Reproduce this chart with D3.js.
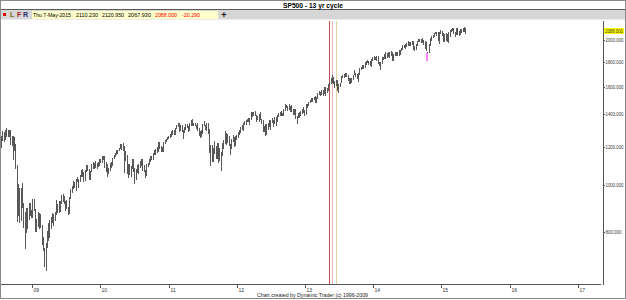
<!DOCTYPE html>
<html>
<head>
<meta charset="utf-8">
<script src="https://cdnjs.cloudflare.com/ajax/libs/d3/7.8.5/d3.min.js"></script>
<style>
    body { margin: 0; background: #fff; }
    svg { display: block; font-family: 'Liberation Sans', Arial, sans-serif; }
</style>
</head>
<body>
<svg class="main" width="626" height="300"></svg>
<script>
'use strict';

// weekly bars, first week starts Mon 14-Jul-2008
var firstWeek = '2008-07-14';

var highs = [
    1262,1291,1285,1300,1314,1300,1300,1303,1266,1266,1256,1214,1100,1006,985,984,1007,919,879,896,897,918,918,887,934,
    936,891,850,877,875,870,827,780,739,758,804,832,845,857,875,871,878,930,911,924,926,951,956,947,928,930,898,943,980,996,
    1018,1012,1027,1039,1028,1048,1074,1080,1066,1073,1101,1101,1080,1071,1106,1113,1112,1119,1110,1117,1130,1130,
    1146,1150,1150,1115,1104,1082,1111,1113,1139,1151,1166,1180,1181,1195,1214,1217,1220,1205,1173,1154,1104,1106,1092,1131,1131,1083,
    1080,1100,1103,1120,1130,1129,1100,1073,1105,1110,1131,1149,1148,1167,1184,1186,1196,1227,1227,1205,1199,1225,1241,1246,1259,1262,
    1277,1294,1297,1302,1311,1331,1344,1343,1333,1330,1298,1320,1337,1340,1328,1341,1364,1371,1346,1346,1334,1346,1310,1292,1298,1340,
    1356,1333,1347,1344,1307,1208,1208,1190,1231,1204,1220,1220,1195,1171,1224,1239,1293,1284,1277,1266,1215,1247,1267,1255,1266,1268,
    1285,1297,1316,1333,1346,1355,1362,1368,1378,1374,1414,1414,1420,1422,1396,1392,1406,1415,1373,1366,1328,1335,1335,1344,1364,1363,
    1375,1365,1380,1386,1394,1408,1419,1426,1413,1438,1474,1466,1457,1470,1461,1465,1437,1434,1434,1388,1409,1419,1421,1439,1448,1430,1470,
    1474,1485,1503,1514,1518,1524,1530,1525,1552,1563,1558,1570,1573,1597,1594,1592,1618,1634,1667,1687,1674,1644,1654,1654,1620,1631,
    1680,1694,1698,1710,1709,1693,1669,1664,1666,1690,1730,1711,1697,1707,1745,1759,1775,1771,1799,1804,1814,1810,1809,1823,1844,1849,
    1843,1851,1850,1798,1797,1841,1847,1867,1883,1882,1884,1883,1897,1888,1865,1884,1891,1885,1902,1901,1924,1955,1955,1963,1968,1985,
    1983,1983,1991,1991,1945,1964,1993,2005,2011,2008,2019,2001,1985,1977,1887,1965,2018,2034,2046,2071,2076,2079,2076,2077,2093,2091,
    2064,2056,2064,2058,2073,2097,2111,2119,2117,2081,2114,2114,2089,2107,2111,2120,2126,2121
];

var lows = [
    1200,1238,1234,1248,1264,1261,1262,1217,1212,1133,1180,1085,840,866,839,845,899,818,741,799,815,851,867,857,857,
    888,804,804,821,812,818,754,731,680,666,742,768,779,814,836,826,847,872,878,879,881,916,928,915,888,896,869,875,940,965,
    987,990,978,1018,991,1018,1042,1041,1020,1026,1068,1074,1029,1029,1069,1085,1083,1090,1085,1093,1102,1115,
    1115,1131,1090,1071,1044,1057,1076,1087,1100,1136,1147,1159,1165,1179,1190,1189,1181,1066,1126,1056,1040,1052,1042,1085,1071,1011,
    1028,1063,1056,1088,1098,1076,1069,1040,1047,1092,1103,1122,1131,1132,1158,1159,1171,1178,1194,1173,1176,1174,1220,1232,1245,1254,
    1257,1262,1275,1276,1276,1310,1325,1294,1302,1291,1249,1290,1305,1318,1295,1303,1333,1329,1330,1329,1311,1300,1268,1258,1262,1281,
    1330,1306,1303,1283,1168,1101,1122,1122,1167,1136,1136,1114,1128,1074,1155,1191,1221,1215,1226,1209,1158,1192,1231,1202,1212,1248,
    1259,1275,1290,1306,1300,1337,1335,1357,1359,1340,1370,1391,1398,1395,1358,1370,1358,1368,1343,1292,1296,1267,1278,1307,1324,1309,
    1348,1325,1345,1329,1355,1390,1399,1398,1397,1396,1429,1449,1430,1439,1425,1426,1403,1405,1376,1343,1385,1385,1398,1412,1419,1398,1402,
    1451,1466,1485,1496,1495,1507,1485,1485,1515,1547,1538,1545,1539,1548,1536,1557,1577,1614,1628,1635,1630,1598,1608,1577,1560,1601,
    1632,1672,1676,1681,1685,1652,1627,1627,1633,1658,1699,1685,1670,1646,1700,1738,1746,1746,1760,1780,1800,1779,1772,1767,1819,1827,
    1824,1815,1790,1770,1738,1790,1825,1834,1834,1839,1849,1842,1863,1814,1820,1860,1860,1859,1862,1868,1904,1918,1929,1925,1944,1955,
    1952,1955,1965,1916,1904,1918,1954,1990,1993,1983,1979,1965,1926,1906,1820,1887,1951,2001,2030,2034,2062,2049,1999,1973,2069,2046,
    1992,1988,2002,1989,1981,2041,2085,2094,2067,2039,2061,2056,2045,2060,2077,2091,2082,2068
];

var markedWeek = '2014-10-13';
var priceTicks = [800, 1000, 1200, 1400, 1600, 1800, 2000];
var lastPrice = 2088;
var yearTicks = ['09', '10', '11', '12', '13', '14', '15', '16', '17'];
var cycleDates = ['2013-05-08', '2013-05-26', '2013-06-14'];
var cycleColors = ['#c05050', '#e2b8bc', '#e0d49a'];

var infoFields = [
    {text: 'Thu 7-May-2015', x: 33, w: 38, color: '#000'},
    {text: '2110.230', x: 76, w: 22, color: '#000'},
    {text: '2120.950', x: 102, w: 22, color: '#000'},
    {text: '2067.930', x: 128, w: 23, color: '#000'},
    {text: '2088.000', x: 155, w: 22, color: '#ff0000'},
    {text: '-20.290', x: 182, w: 18, color: '#ff0000'}
];

var svg = d3.select('svg.main');
var parse = d3.timeParse('%Y-%m-%d');
var start = parse(firstWeek);
var markedTime = parse(markedWeek).getTime();

var bars = highs.map(function (h, i) {
    var d = d3.timeMonday.offset(start, i);
    return {
        date: d3.timeDay.offset(d, 4),
        marked: Math.abs(d.getTime() - markedTime) < 2 * 864e5,
        high: h,
        low: lows[i]
    };
});

var x = d3.scaleTime()
    .domain([new Date(2009, 0, 1), new Date(2017, 0, 1)])
    .range([32.3, 578]);

var y = d3.scaleLog()
    .domain([622.7, 2199])
    .range([284, 20]);

// title + toolbar
svg.append('rect')
    .attr('x', 0).attr('y', 10).attr('width', 626).attr('height', 9)
    .attr('fill', '#d6d6d6');
svg.append('line')
    .attr('x1', 0).attr('x2', 626).attr('y1', 9.5).attr('y2', 9.5)
    .attr('stroke', '#5a5a5a');
svg.append('line')
    .attr('x1', 0).attr('x2', 626).attr('y1', 19.5).attr('y2', 19.5)
    .attr('stroke', '#ececec');

svg.append('text')
    .attr('x', 313).attr('y', 7.5)
    .attr('text-anchor', 'middle')
    .attr('font-size', 7.5)
    .attr('font-weight', 'bold')
    .attr('textLength', 60)
    .attr('lengthAdjust', 'spacingAndGlyphs')
    .text('SP500 - 13 yr cycle');

svg.append('rect')
    .attr('x', 3).attr('y', 13).attr('width', 3).attr('height', 3)
    .attr('fill', '#e00000');

[['L', 10, '#7a6a10'], ['F', 17, '#a01818'], ['R', 23, '#28306e']].forEach(function (b) {
    svg.append('text')
        .attr('x', b[1]).attr('y', 17.3)
        .attr('font-size', 7)
        .attr('font-weight', 'bold')
        .attr('fill', b[2])
        .text(b[0]);
});

svg.append('rect')
    .attr('x', 32).attr('y', 11).attr('width', 186).attr('height', 8)
    .attr('fill', '#ffffcc');

svg.selectAll('.info')
    .data(infoFields)
    .enter()
    .append('text')
    .attr('class', 'info')
    .attr('x', function (d) { return d.x; })
    .attr('y', 17)
    .attr('font-size', 6)
    .attr('fill', function (d) { return d.color; })
    .attr('textLength', function (d) { return d.w; })
    .attr('lengthAdjust', 'spacingAndGlyphs')
    .text(function (d) { return d.text; });

svg.append('text')
    .attr('x', 224).attr('y', 17.5)
    .attr('text-anchor', 'middle')
    .attr('font-size', 9)
    .attr('font-weight', 'bold')
    .attr('fill', '#000')
    .text('+');

// cycle lines
svg.selectAll('.cycle')
    .data(cycleDates)
    .enter()
    .append('line')
    .attr('class', 'cycle')
    .attr('x1', function (d) { return Math.round(x(parse(d))) + 0.5; })
    .attr('x2', function (d) { return Math.round(x(parse(d))) + 0.5; })
    .attr('y1', 21)
    .attr('y2', 284)
    .attr('stroke', function (d, i) { return cycleColors[i]; })
    .attr('shape-rendering', 'crispEdges');

// price bars (high-low)
svg.selectAll('.bar')
    .data(bars)
    .enter()
    .append('line')
    .attr('class', 'bar')
    .attr('x1', function (d) { return Math.round(x(d.date)) + 0.5; })
    .attr('x2', function (d) { return Math.round(x(d.date)) + 0.5; })
    .attr('y1', function (d) { return Math.round(y(d.high)); })
    .attr('y2', function (d) { return Math.round(y(d.low)) + 1; })
    .attr('stroke', '#585858')
    .attr('stroke-width', 1)
    .attr('shape-rendering', 'crispEdges');

// highlighted bar on top
svg.selectAll('.marked')
    .data(bars.filter(function (d) { return d.marked; }))
    .enter()
    .append('rect')
    .attr('class', 'marked')
    .attr('x', function (d) { return Math.round(x(d.date)) - 1; })
    .attr('width', 2)
    .attr('y', function (d) { return Math.round(y(d.high)) + 1; })
    .attr('height', function (d) { return Math.round(y(d.low)) - Math.round(y(d.high)); })
    .attr('fill', '#ff80ff');

// axes
svg.append('line')
    .attr('x1', 0).attr('x2', 601).attr('y1', 284.5).attr('y2', 284.5)
    .attr('stroke', '#555');
svg.append('line')
    .attr('x1', 603.5).attr('x2', 603.5).attr('y1', 21).attr('y2', 285)
    .attr('stroke', '#555');

var yearG = svg.selectAll('.year')
    .data(yearTicks)
    .enter()
    .append('g')
    .attr('class', 'year')
    .attr('transform', function (d) {
        return 'translate(' + Math.round(x(new Date(2000 + (+d), 0, 1))) + ',0)';
    });
yearG.append('line')
    .attr('x1', 0.5).attr('x2', 0.5).attr('y1', 285).attr('y2', 288)
    .attr('stroke', '#555');
yearG.append('text')
    .attr('x', 1.5).attr('y', 291.5)
    .attr('font-size', 5)
    .attr('fill', '#333')
    .text(function (d) { return d; });

var priceG = svg.selectAll('.price')
    .data(priceTicks)
    .enter()
    .append('g')
    .attr('class', 'price')
    .attr('transform', function (d) { return 'translate(603,' + Math.round(y(d)) + ')'; });
priceG.append('line')
    .attr('x1', 0).attr('x2', 2).attr('y1', 0.5).attr('y2', 0.5)
    .attr('stroke', '#555');
priceG.append('text')
    .attr('x', 2.5).attr('y', 2.3)
    .attr('font-size', 5)
    .attr('fill', '#333')
    .attr('textLength', function (d) { return d < 1000 ? 16 : 18; })
    .attr('lengthAdjust', 'spacingAndGlyphs')
    .text(function (d) { return d3.format('.3f')(d); });

var lastY = Math.round(y(lastPrice));
svg.append('rect')
    .attr('x', 604).attr('y', lastY - 3).attr('width', 20).attr('height', 6)
    .attr('fill', '#ffff00');
svg.append('text')
    .attr('x', 605).attr('y', lastY + 2)
    .attr('font-size', 5)
    .attr('fill', '#333')
    .attr('textLength', 18)
    .attr('lengthAdjust', 'spacingAndGlyphs')
    .text(d3.format('.3f')(lastPrice));

svg.append('text')
    .attr('x', 257).attr('y', 297)
    .attr('font-size', 6)
    .attr('fill', '#222')
    .attr('textLength', 111)
    .attr('lengthAdjust', 'spacingAndGlyphs')
    .text('Chart created by Dynamic Trader  (c) 1996-2009');

// outer frame
svg.append('rect')
    .attr('x', 0.5).attr('y', 0.5).attr('width', 625).attr('height', 298)
    .attr('fill', 'none')
    .attr('stroke', '#8a8a8a');
</script>
</body>
</html>
